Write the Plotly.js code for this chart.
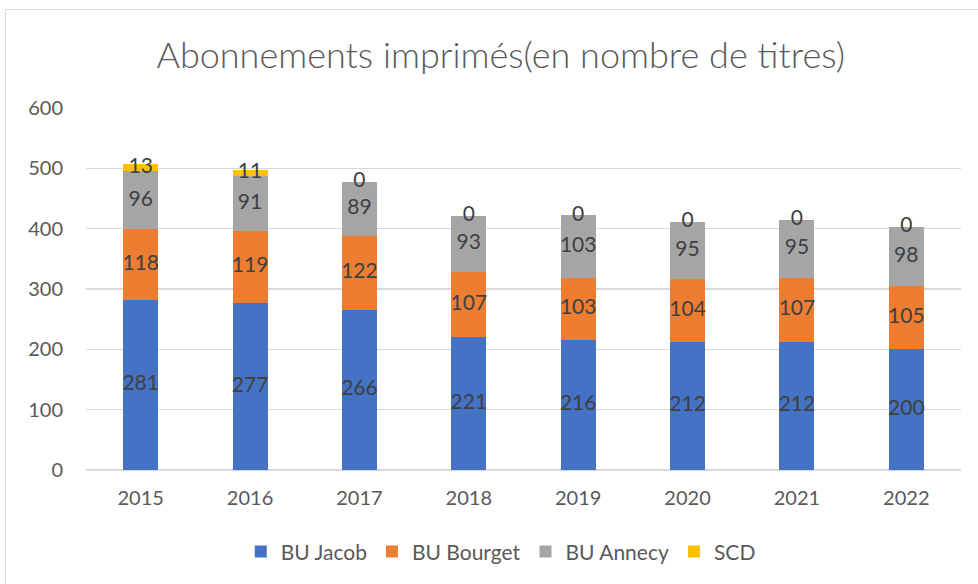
<!DOCTYPE html>
<html><head><meta charset="utf-8">
<script src="https://cdn.plot.ly/plotly-3.0.1.min.js"></script>
<style>
html,body{margin:0;padding:0;background:#fff;}
#frame{position:absolute;left:5px;top:9px;width:990px;height:600px;border:1px solid #D9D9D9;box-sizing:border-box;}
#chart{position:absolute;left:0;top:0;width:978px;height:584px;}
</style></head>
<body>
<div id="frame"></div>
<div id="chart"></div>
<script>
const years = ['2015','2016','2017','2018','2019','2020','2021','2022'];
const jacob = [281,277,266,221,216,212,212,200];
const bourget = [118,119,122,107,103,104,107,105];
const annecy = [96,91,89,93,103,95,95,98];
const scd = [13,11,0,0,0,0,0,0];
const seriesNames = ['BU Jacob','BU Bourget','BU Annecy','SCD'];
const colors = ['#4472C4','#ED7D31','#A5A5A5','#FFC000'];
const series = [jacob, bourget, annecy, scd];

const traces = [];
series.forEach((vals,i)=>{
  traces.push({type:'bar', x:years, y:vals, name:seriesNames[i], marker:{color:colors[i]}, hoverinfo:'skip'});
});
const cum = years.map(()=>0);
series.forEach((vals,i)=>{
  const mids = vals.map((v,j)=>cum[j]+v/2);
  vals.forEach((v,j)=>{cum[j]+=v;});
  traces.push({type:'scatter', mode:'text', x:years, y:mids, text:vals.map(String),
    textfont:{family:'Lato, sans-serif', size:21, color:'#404040'}, showlegend:false, hoverinfo:'skip', cliponaxis:false});
});

const layout = {
  width:978, height:584,
  paper_bgcolor:'rgba(0,0,0,0)', plot_bgcolor:'rgba(0,0,0,0)',
  barmode:'stack', bargap:0.68,
  margin:{l:86, r:17, t:108, b:114},
  title:{text:'Abonnements imprimés(en nombre de titres)', x:0.512, xanchor:'center', y:0.905, yanchor:'middle',
    font:{family:'Lato, sans-serif', size:36, color:'#595959', weight:300}},
  xaxis:{type:'category', tickfont:{family:'Lato, sans-serif', size:20, color:'#595959'}, showline:false, ticks:'', showgrid:false, ticklabelstandoff:14},
  yaxis:{range:[0,600], dtick:100, tickfont:{family:'Lato, sans-serif', size:20, color:'#595959'},
    gridcolor:'#D9D9D9', gridwidth:1.3, zeroline:true, zerolinecolor:'#D9D9D9', zerolinewidth:1.3, showline:false, ticks:'', ticklen:0, automargin:false, ticklabelstandoff:22},
  legend:{orientation:'h', x:0.474, xanchor:'center', y:-0.226, yanchor:'middle',
    font:{family:'Lato, sans-serif', size:21, color:'#595959'}, traceorder:'normal', itemwidth:30},
  showlegend:true
};
Plotly.newPlot('chart', traces, layout, {displayModeBar:false, staticPlot:true});
</script>
</body></html>
